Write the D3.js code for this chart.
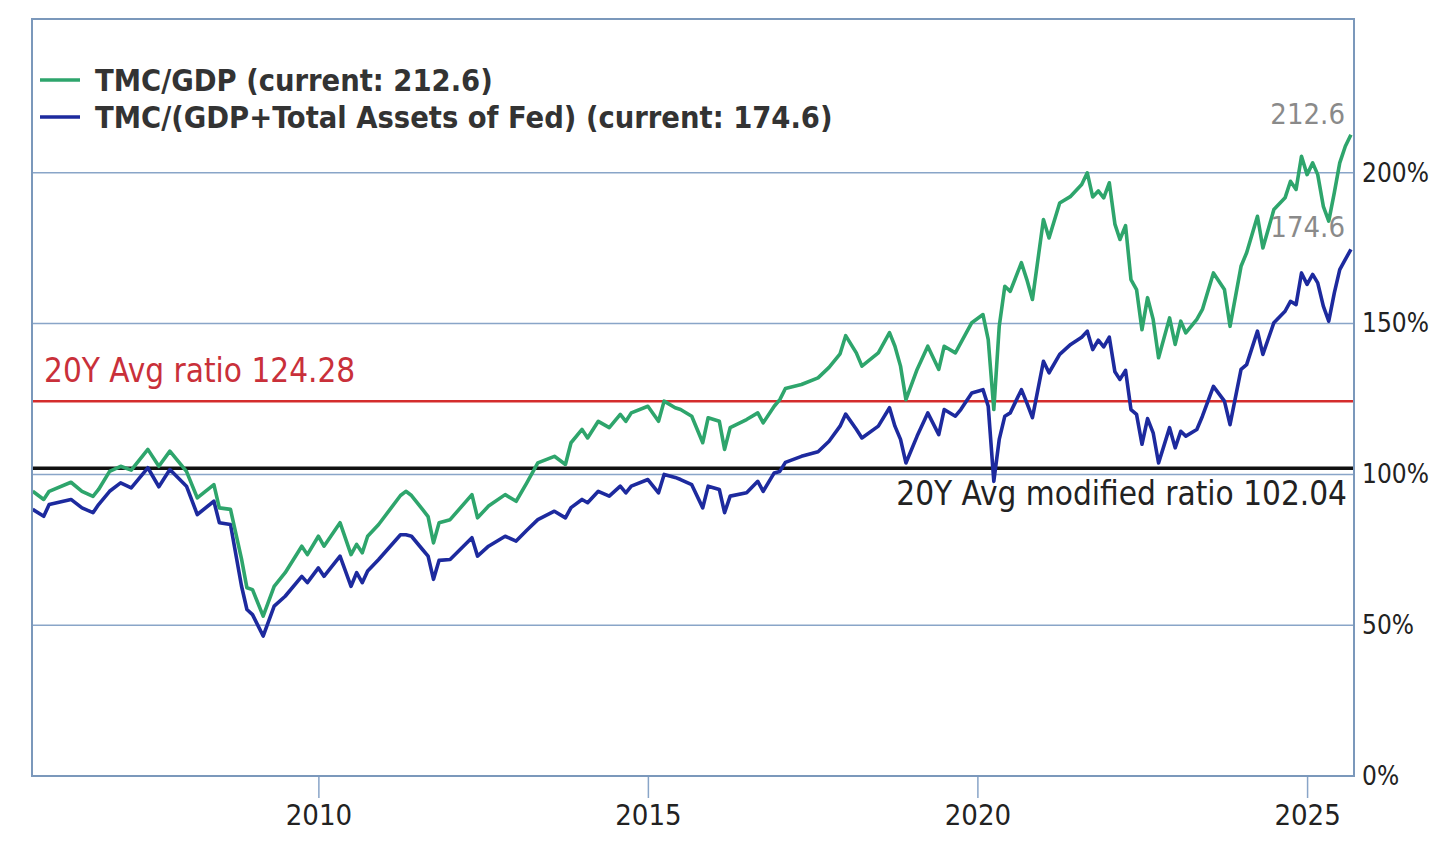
<!DOCTYPE html>
<html>
<head>
<meta charset="utf-8">
<script src="https://cdn.jsdelivr.net/npm/d3@7"></script>
<style>
  html, body { margin: 0; padding: 0; background: #fff; }
  svg { display: block; font-family: "DejaVu Sans Condensed", "DejaVu Sans", sans-serif; }
</style>
</head>
<body>
<div id="chart"></div>
<script>
// monthly readings, TMC/GDP and TMC/(GDP + Fed total assets), in %
const months = [
  '2005-09', '2005-11', '2005-12', '2006-04', '2006-06', '2006-08', '2006-09', '2006-11',
  '2007-01', '2007-03', '2007-06', '2007-08', '2007-10', '2008-01', '2008-03', '2008-06',
  '2008-07', '2008-09', '2008-11', '2008-12', '2009-01', '2009-03', '2009-05', '2009-07',
  '2009-10', '2009-11', '2010-01', '2010-02', '2010-05', '2010-07', '2010-08', '2010-09',
  '2010-10', '2010-12', '2011-04', '2011-05', '2011-06', '2011-08', '2011-09', '2011-10',
  '2011-11', '2012-01', '2012-05', '2012-06', '2012-08', '2012-11', '2013-01', '2013-03',
  '2013-05', '2013-08', '2013-10', '2013-11', '2014-01', '2014-02', '2014-04', '2014-06',
  '2014-08', '2014-09', '2014-10', '2015-01', '2015-03', '2015-04', '2015-06', '2015-07',
  '2015-09', '2015-11', '2015-12', '2016-02', '2016-03', '2016-04', '2016-07', '2016-09',
  '2016-10', '2016-12', '2017-01', '2017-02', '2017-05', '2017-08', '2017-10', '2017-12',
  '2018-01', '2018-03', '2018-04', '2018-07', '2018-09', '2018-10', '2018-11', '2018-12',
  '2019-02', '2019-04', '2019-06', '2019-07', '2019-09', '2019-10', '2019-12', '2020-02',
  '2020-03', '2020-04', '2020-05', '2020-06', '2020-07', '2020-09', '2020-10', '2020-11',
  '2021-01', '2021-02', '2021-04', '2021-06', '2021-08', '2021-09', '2021-10', '2021-11',
  '2021-12', '2022-01', '2022-02', '2022-03', '2022-04', '2022-05', '2022-06', '2022-07',
  '2022-08', '2022-09', '2022-10', '2022-12', '2023-01', '2023-02', '2023-03', '2023-05',
  '2023-06', '2023-08', '2023-10', '2023-11', '2024-01', '2024-02', '2024-04', '2024-05',
  '2024-07', '2024-09', '2024-10', '2024-11', '2024-12', '2025-01', '2025-02', '2025-03',
  '2025-04', '2025-05', '2025-06', '2025-07', '2025-08', '2025-09',
];

const tmcGdp = [
  94.4, 91.7, 94.4, 97.4, 94.4, 92.7, 95.0, 101.0,
  102.7, 101.4, 108.3, 102.7, 107.7, 101.0, 92.2, 96.6,
  88.9, 88.4, 72.0, 62.4, 61.8, 53.0, 62.9, 67.4,
  76.2, 73.4, 79.5, 76.2, 84.0, 73.4, 76.8, 74.0,
  79.5, 83.4, 93.0, 94.4, 93.0, 88.4, 86.0, 77.3,
  84.0, 85.0, 93.3, 85.6, 89.5, 93.3, 91.1, 97.2,
  103.8, 106.0, 103.3, 110.5, 114.9, 112.1, 117.6, 115.5,
  119.9, 117.6, 120.4, 122.6, 117.6, 124.3, 122.1, 121.5,
  119.3, 110.5, 118.8, 117.6, 108.3, 115.5, 118.2, 120.4,
  117.1, 122.6, 124.8, 128.5, 129.8, 132.0, 135.5, 140.0,
  146.0, 140.3, 135.9, 140.3, 147.0, 142.5, 135.9, 124.8,
  134.8, 142.5, 134.8, 142.5, 140.3, 143.6, 150.3, 153.0,
  144.7, 121.5, 149.1, 162.4, 160.7, 170.2, 164.6, 158.0,
  184.5, 178.4, 190.0, 192.2, 196.1, 200.0, 192.0, 194.0,
  191.7, 196.7, 183.0, 177.9, 182.5, 164.6, 161.3, 148.0,
  158.6, 151.4, 138.7, 151.9, 143.1, 150.8, 146.9, 151.4,
  154.7, 166.8, 161.3, 149.1, 169.0, 173.5, 185.6, 175.1,
  187.8, 191.7, 197.2, 194.5, 205.5, 199.4, 203.3, 199.4,
  188.9, 184.0, 193.4, 203.3, 208.8, 212.6,
];

const tmcGdpFed = [
  88.4, 86.1, 90.0, 91.7, 88.9, 87.3, 90.0, 94.4,
  97.2, 95.5, 102.2, 95.9, 101.6, 96.1, 86.7, 91.1,
  84.0, 83.4, 63.0, 55.2, 53.5, 46.4, 56.3, 59.6,
  66.2, 64.1, 69.0, 66.2, 72.9, 62.9, 67.4, 64.1,
  68.0, 71.8, 80.0, 80.0, 79.5, 75.1, 72.9, 65.2,
  71.5, 71.8, 79.0, 72.9, 76.2, 79.5, 77.9, 81.5,
  85.0, 87.8, 85.6, 89.0, 91.7, 90.6, 94.4, 92.8,
  96.1, 93.9, 96.1, 98.3, 93.9, 100.0, 99.0, 98.3,
  96.6, 88.9, 96.1, 95.0, 87.3, 92.8, 93.9, 97.7,
  94.4, 100.5, 101.0, 104.0, 106.0, 107.5, 111.0, 116.0,
  120.0, 115.0, 112.1, 116.0, 122.1, 116.0, 111.6, 103.8,
  112.7, 120.4, 113.2, 121.5, 119.3, 121.5, 127.0, 128.1,
  122.6, 97.7, 111.6, 119.3, 120.4, 128.1, 123.7, 118.8,
  137.5, 133.7, 139.8, 143.1, 145.5, 147.5, 141.4, 144.5,
  142.3, 145.5, 134.0, 131.5, 134.5, 121.5, 119.9, 110.0,
  118.5, 113.8, 103.8, 115.5, 108.8, 114.3, 112.7, 114.9,
  119.3, 129.2, 124.3, 116.5, 134.8, 136.4, 147.5, 139.8,
  150.3, 154.1, 157.4, 156.3, 166.8, 163.0, 166.3, 163.5,
  155.8, 150.8, 160.2, 167.9, 171.3, 174.6,
];

const yTicks = [0, 50, 100, 150, 200];
const xTicks = [2010, 2015, 2020, 2025];
const avgRatio = 124.28;
const avgModified = 102.04;
const legendLabels = [
  'TMC/GDP (current: 212.6)',
  'TMC/(GDP+Total Assets of Fed) (current: 174.6)',
];

const W = 1456;
const H = 849;
const plot = { left: 32, top: 19, right: 1354, bottom: 776 };

const parseMonth = d3.timeParse('%Y-%m');
const rows = months.map((m, i) => ({
  date: parseMonth(m),
  gdp: tmcGdp[i],
  fed: tmcGdpFed[i],
}));

const svg = d3.select('#chart').append('svg').attr('width', W).attr('height', H);

const x = d3.scaleTime()
  .domain([new Date(2005, 7, 28), new Date(2025, 8, 18)])
  .range([plot.left, plot.right]);
const y = d3.scaleLinear().domain([0, 251]).range([plot.bottom, plot.top]);

const gridColor = '#89a5c8';
const fontStack = '"DejaVu Sans Condensed", "DejaVu Sans", sans-serif';

// horizontal grid lines
svg.append('g')
  .selectAll('line')
  .data(yTicks.filter((d) => d > 0))
  .join('line')
  .attr('x1', plot.left)
  .attr('x2', plot.right)
  .attr('y1', (d) => y(d))
  .attr('y2', (d) => y(d))
  .style('stroke', gridColor)
  .style('stroke-width', 1.5);

// right axis labels
const yAxis = svg.append('g')
  .attr('transform', `translate(${plot.right},0)`)
  .call(d3.axisRight(y).tickValues(yTicks).tickSize(0).tickPadding(8).tickFormat((d) => d + '%'));
yAxis.select('.domain').remove();
yAxis.selectAll('text')
  .style('font-family', fontStack)
  .style('font-size', '26px')
  .style('fill', '#222');

// bottom axis
const xAxis = svg.append('g')
  .attr('transform', `translate(0,${plot.bottom})`)
  .call(d3.axisBottom(x)
    .tickValues(xTicks.map((yr) => new Date(yr, 0, 1)))
    .tickSize(22)
    .tickPadding(6)
    .tickFormat(d3.timeFormat('%Y')));
xAxis.select('.domain').remove();
xAxis.selectAll('line').style('stroke', gridColor).style('stroke-width', 1.5);
xAxis.selectAll('text')
  .style('font-family', fontStack)
  .style('font-size', '29px')
  .style('fill', '#222');

// average lines
svg.append('line')
  .attr('x1', plot.left).attr('x2', plot.right)
  .attr('y1', y(avgRatio)).attr('y2', y(avgRatio))
  .style('stroke', '#d42c2c')
  .style('stroke-width', 2.5);

svg.append('line')
  .attr('x1', plot.left).attr('x2', plot.right)
  .attr('y1', y(avgModified)).attr('y2', y(avgModified))
  .style('stroke', '#111')
  .style('stroke-width', 3.5);

// series
const line = (key) => d3.line()
  .x((d) => x(d.date))
  .y((d) => y(d[key]))
  .curve(d3.curveLinear);

svg.append('path')
  .datum(rows)
  .attr('d', line('fed'))
  .style('fill', 'none')
  .style('stroke', '#1d2a9e')
  .style('stroke-width', 3.6)
  .style('stroke-linejoin', 'round');

svg.append('path')
  .datum(rows)
  .attr('d', line('gdp'))
  .style('fill', 'none')
  .style('stroke', '#2ea56c')
  .style('stroke-width', 3.6)
  .style('stroke-linejoin', 'round');

// plot frame
svg.append('rect')
  .attr('x', plot.left)
  .attr('y', plot.top)
  .attr('width', plot.right - plot.left)
  .attr('height', plot.bottom - plot.top)
  .style('fill', 'none')
  .style('stroke', '#7b98bb')
  .style('stroke-width', 2);

// average labels
svg.append('text')
  .attr('x', 44)
  .attr('y', y(avgRatio) - 19)
  .style('font-size', '33px')
  .style('fill', '#c9303a')
  .text(`20Y Avg ratio ${avgRatio}`);

svg.append('text')
  .attr('x', 1347)
  .attr('y', y(avgModified) + 37)
  .attr('text-anchor', 'end')
  .style('font-size', '33px')
  .style('fill', '#222')
  .text(`20Y Avg modified ratio ${avgModified}`);

// current value labels
const last = rows[rows.length - 1];
svg.append('text')
  .attr('x', 1345)
  .attr('y', 124)
  .attr('text-anchor', 'end')
  .style('font-size', '29px')
  .style('fill', '#8a8a8a')
  .text(last.gdp);

svg.append('text')
  .attr('x', 1345)
  .attr('y', 237)
  .attr('text-anchor', 'end')
  .style('font-size', '29px')
  .style('fill', '#8a8a8a')
  .text(last.fed);

// legend
const legendColors = ['#2ea56c', '#1d2a9e'];
const legend = svg.append('g')
  .selectAll('g')
  .data(legendLabels)
  .join('g')
  .attr('transform', (d, i) => `translate(40,${80 + i * 37})`);

legend.append('line')
  .attr('x1', 0).attr('x2', 40)
  .style('stroke', (d, i) => legendColors[i])
  .style('stroke-width', 3.5);

legend.append('text')
  .attr('x', 55)
  .attr('dy', '0.36em')
  .style('font-size', '30.5px')
  .style('font-weight', 'bold')
  .style('fill', '#333')
  .text((d) => d);
</script>
</body>
</html>
